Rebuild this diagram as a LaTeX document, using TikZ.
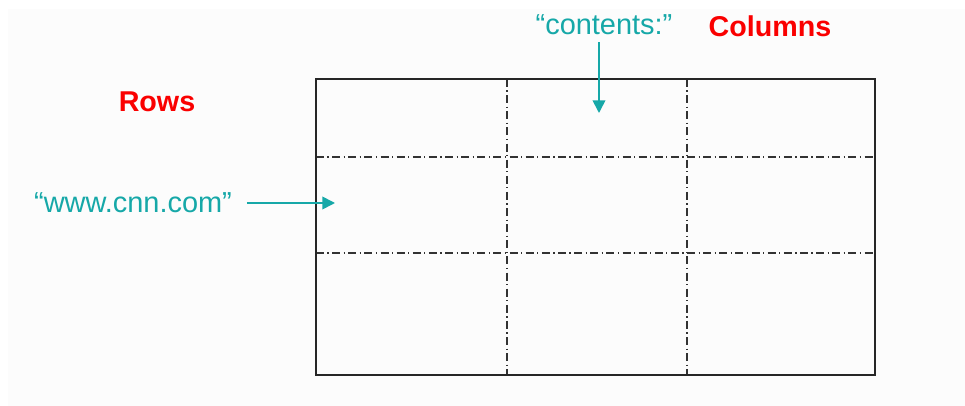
\documentclass[tikz,border=0pt]{standalone}
\usepackage{fontspec}
\setmainfont{Liberation Sans}
\usetikzlibrary{arrows.meta}
\definecolor{teal1}{RGB}{22,168,168}
\definecolor{redlbl}{RGB}{250,0,0}
\definecolor{bggray}{RGB}{252,252,252}
\tikzset{
  title/.style={text=redlbl,font=\fontsize{21.5}{24}\selectfont\bfseries,inner sep=0pt,anchor=base},
  label/.style={text=teal1,font=\fontsize{21.7}{24}\selectfont,inner sep=0pt,anchor=base},
  arr/.style={draw=teal1,line width=1.3pt,-{Triangle[length=9.5pt,width=9.5pt]}},
  frame/.style={draw=black!85,line width=1.3pt},
  divider/.style={draw=black!80,line width=0.9pt,dash pattern=on 6pt off 2.6pt on 0.9pt off 2.6pt}
}
\begin{document}
\begin{tikzpicture}[x=0.75pt,y=-0.75pt]
\useasboundingbox (0,0) rectangle (965,406);
\fill[bggray] (8,9) rectangle (965,406);
% grid
\draw[divider] (316,157) -- (875,157);
\draw[divider] (316,253) -- (875,253);
\draw[divider] (507,79) -- (507,375);
\draw[divider] (687,79) -- (687,375);
\draw[frame] (316,79) rectangle (875,375);
% labels
\node[title] (rows) at (157,112) {Rows};
\node[title] (cols) at (770,37) {Columns};
\node[label] (contents) at (604,35) {“contents:”};
\node[label] (www) at (133,213) {“www.cnn.com”};
\coordinate (tipA) at (335,203);
\coordinate (tipB) at (599,113);
\draw[arr,shorten <=11pt] (www.east |- tipA) -- (tipA);
\draw[arr,shorten <=5pt] (contents.south -| tipB) -- (tipB);
\end{tikzpicture}
\end{document}
